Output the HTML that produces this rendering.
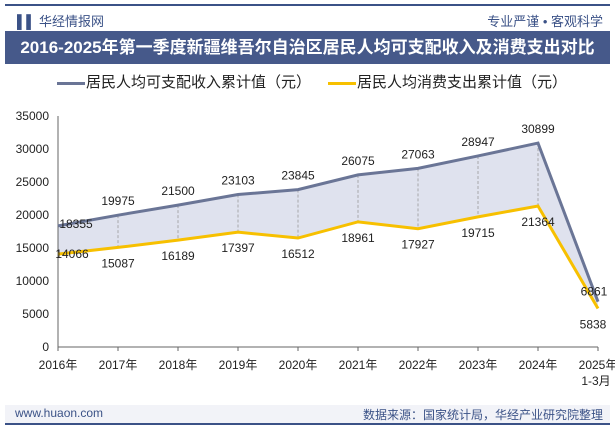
<!DOCTYPE html>
<html><head><meta charset="utf-8"><style>
body{margin:0;width:615px;height:427px;background:#fff;font-family:"Liberation Sans","Noto Sans CJK SC",sans-serif;overflow:hidden;position:relative}
.a{position:absolute}
</style></head><body>
<div class="a" style="left:5px;top:4px;width:605px;height:2px;background:#3b5287"></div>
<div class="a" style="left:17px;top:11px;font-size:13px;color:#3b5287">▌▌ 华经情报网</div>
<div class="a" style="right:12px;top:11px;font-size:13px;color:#3b5287">专业严谨 • 客观科学</div>
<div class="a" style="left:5px;top:31px;width:605px;height:33px;background:#46598a;color:#fff;font-weight:bold;font-size:17px;line-height:33px;text-align:center">2016-2025年第一季度新疆维吾尔自治区居民人均可支配收入及消费支出对比</div>
<div class="a" style="left:57px;top:71px;font-size:15px;color:#222"><span style="display:inline-block;width:28px;height:3px;background:#6a7596;vertical-align:middle;margin-right:1px"></span>居民人均可支配收入累计值（元）</div>
<div class="a" style="left:328px;top:71px;font-size:15px;color:#222"><span style="display:inline-block;width:28px;height:3px;background:#f7c000;vertical-align:middle;margin-right:1px"></span>居民人均消费支出累计值（元）</div>
<svg class="a" style="left:0;top:0" width="615" height="427" id="chart"></svg>
<div class="a" style="left:5px;top:405px;width:605px;height:18px;background:#f2f3f8"></div>
<div class="a" style="left:5px;top:423px;width:605px;height:2px;background:#3b5287"></div>
<div class="a" style="left:15px;top:406px;font-size:12px;color:#3b5287">www.huaon.com</div>
<div class="a" style="right:12px;top:406px;font-size:12px;color:#3b5287">数据来源：国家统计局，华经产业研究院整理</div>
<script>
const categories=["2016年","2017年","2018年","2019年","2020年","2021年","2022年","2023年","2024年","2025年"];
const income=[18355,19975,21500,23103,23845,26075,27063,28947,30899,6861];
const expense=[14066,15087,16189,17397,16512,18961,17927,19715,21364,5838];
const ticks=[0,5000,10000,15000,20000,25000,30000,35000];
const svg=document.getElementById('chart');const NS='http://www.w3.org/2000/svg';
const x0=58,dx=60,y0=347,ky=231/35000;
const X=i=>x0+i*dx,Y=v=>y0-v*ky;
function el(t,a,p){const e=document.createElementNS(NS,t);for(const k in a)e.setAttribute(k,a[k]);(p||svg).appendChild(e);return e;}
let d='';income.forEach((v,i)=>d+=(i?'L':'M')+X(i)+','+Y(v));
for(let i=expense.length-1;i>=0;i--)d+='L'+X(i)+','+Y(expense[i]);
const area=el('path',{d:d+'Z',fill:'#dfe2ee'});


categories.forEach((c,i)=>{if(i>0&&i<9){const l=el('line',{x1:X(i),x2:X(i),y1:Y(income[i]),y2:Y(expense[i]),stroke:'#999','stroke-dasharray':'3,2','stroke-width':0.8});

}});
el('line',{x1:x0,x2:x0,y1:Y(35000),y2:y0,stroke:'#666'});
el('line',{x1:x0,x2:X(9),y1:y0,y2:y0,stroke:'#666'});
ticks.forEach(t=>{const tx=el('text',{x:x0-9,y:Y(t)+4,'text-anchor':'end','font-size':12,fill:'#222'});tx.textContent=t;

});
categories.forEach((c,i)=>{el('line',{x1:X(i),x2:X(i),y1:y0,y2:y0+4,stroke:'#666'});
const tx=el('text',{x:X(i),y:y0+22,'text-anchor':'middle','font-size':12,fill:'#222'});tx.textContent=c;

});
const t2=el('text',{x:X(9)-2,y:y0+38,'text-anchor':'middle','font-size':12,fill:'#222'});t2.textContent='1-3月';
function line(arr,col,name){let p='';arr.forEach((v,i)=>p+=(i?'L':'M')+X(i)+','+Y(v));const l=el('path',{d:p,fill:'none',stroke:col,'stroke-width':3});

}
line(expense,'#f7c000','expense-line');line(income,'#6a7596','income-line');
income.forEach((v,i)=>{let x=X(i),y=Y(v)-10;if(i==0){x+=18;y=Y(v)+2;}if(i==9){x=X(9)-4;y=Y(v)-6;}
const tx=el('text',{x:x,y:y,'text-anchor':'middle','font-size':12,fill:'#222'});tx.textContent=v;

});
expense.forEach((v,i)=>{let x=X(i),y=Y(v)+20;if(i==0){x+=14;y=Y(v)+4;}if(i==9){x=X(9)-5;y=Y(v)+20;}
const tx=el('text',{x:x,y:y,'text-anchor':'middle','font-size':12,fill:'#222'});tx.textContent=v;

});
</script>
</body></html>
